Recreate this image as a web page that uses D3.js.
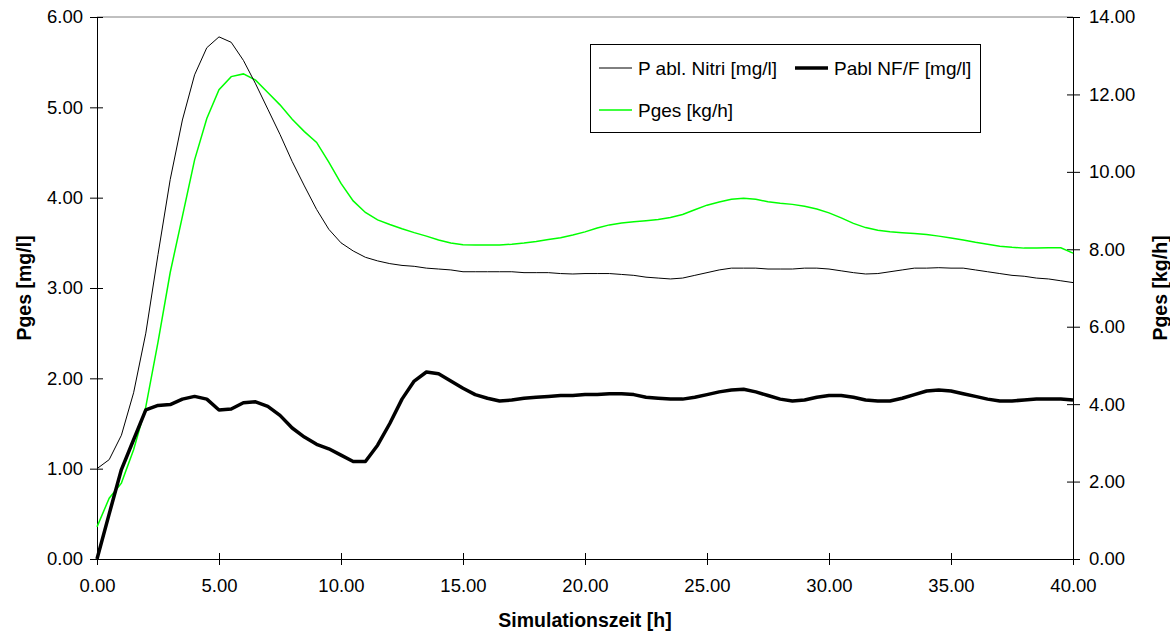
<!DOCTYPE html>
<html>
<head>
<meta charset="utf-8">
<script src="https://cdn.jsdelivr.net/npm/d3@7"></script>
<style>
  body { margin: 0; background: #fff; }
  svg { display: block; font-family: "Liberation Sans", Arial, sans-serif; }
</style>
</head>
<body>
<div id="chart"></div>
<script>
// time grid [h]
var zeit = [0, 0.5, 1, 1.5, 2, 2.5, 3, 3.5, 4, 4.5, 5, 5.5, 6, 6.5, 7, 7.5, 8, 8.5, 9, 9.5,
    10, 10.5, 11, 11.5, 12, 12.5, 13, 13.5, 14, 14.5, 15, 15.5, 16, 16.5, 17, 17.5, 18, 18.5, 19, 19.5,
    20, 20.5, 21, 21.5, 22, 22.5, 23, 23.5, 24, 24.5, 25, 25.5, 26, 26.5, 27, 27.5, 28, 28.5, 29, 29.5,
    30, 30.5, 31, 31.5, 32, 32.5, 33, 33.5, 34, 34.5, 35, 35.5, 36, 36.5, 37, 37.5, 38, 38.5, 39, 39.5, 40];

// P abl. Nitri [mg/l] (left axis)
var pAblNitri = [1.00, 1.10, 1.37, 1.84, 2.50, 3.37, 4.20, 4.86, 5.36, 5.66, 5.78, 5.72, 5.52, 5.26, 4.98, 4.70, 4.40, 4.13, 3.87, 3.65,
    3.50, 3.41, 3.34, 3.30, 3.27, 3.25, 3.24, 3.22, 3.21, 3.20, 3.18, 3.18, 3.18, 3.18, 3.18, 3.17, 3.17, 3.17, 3.16, 3.155,
    3.16, 3.16, 3.16, 3.15, 3.14, 3.12, 3.11, 3.10, 3.11, 3.14, 3.17, 3.20, 3.22, 3.22, 3.22, 3.21, 3.21, 3.21, 3.22, 3.22,
    3.21, 3.19, 3.17, 3.155, 3.16, 3.18, 3.20, 3.22, 3.22, 3.225, 3.22, 3.22, 3.20, 3.18, 3.16, 3.14, 3.13, 3.11, 3.10, 3.08, 3.06];

// Pabl NF/F [mg/l] (left axis)
var pAblNFF = [0.00, 0.50, 0.99, 1.32, 1.65, 1.70, 1.71, 1.77, 1.80, 1.77, 1.65, 1.66, 1.73, 1.74, 1.69, 1.59, 1.45, 1.35, 1.27, 1.22,
    1.15, 1.08, 1.08, 1.26, 1.50, 1.77, 1.97, 2.07, 2.05, 1.97, 1.89, 1.82, 1.78, 1.75, 1.76, 1.78, 1.79, 1.80, 1.81, 1.81,
    1.82, 1.82, 1.83, 1.83, 1.82, 1.79, 1.78, 1.77, 1.77, 1.79, 1.82, 1.85, 1.87, 1.88, 1.85, 1.81, 1.77, 1.75, 1.76, 1.79,
    1.81, 1.81, 1.79, 1.76, 1.75, 1.75, 1.78, 1.82, 1.86, 1.87, 1.86, 1.83, 1.80, 1.77, 1.75, 1.75, 1.76, 1.77, 1.77, 1.77, 1.76];

// Pges [kg/h] (right axis)
var pGes = [0.83, 1.57, 1.96, 2.82, 3.93, 5.60, 7.40, 8.85, 10.31, 11.38, 12.12, 12.46, 12.53, 12.37, 12.05, 11.73, 11.36, 11.04, 10.76, 10.25,
    9.70, 9.25, 8.95, 8.76, 8.64, 8.53, 8.43, 8.34, 8.24, 8.16, 8.12, 8.11, 8.11, 8.11, 8.13, 8.16, 8.20, 8.25, 8.30, 8.37,
    8.45, 8.55, 8.63, 8.68, 8.71, 8.74, 8.77, 8.82, 8.90, 9.02, 9.14, 9.22, 9.29, 9.32, 9.29, 9.23, 9.19, 9.16, 9.11, 9.04,
    8.94, 8.81, 8.67, 8.56, 8.49, 8.45, 8.43, 8.41, 8.38, 8.34, 8.29, 8.24, 8.18, 8.13, 8.08, 8.05, 8.03, 8.03, 8.04, 8.04, 7.90];

var xTicks = [0, 5, 10, 15, 20, 25, 30, 35, 40];
var yLeftTicks = [0, 1, 2, 3, 4, 5, 6];
var yRightTicks = [0, 2, 4, 6, 8, 10, 12, 14];

var width = 1170, height = 635;
var margin = { top: 17, right: 97, bottom: 76, left: 97 };
var innerW = width - margin.left - margin.right,
    innerH = height - margin.top - margin.bottom;

var svg = d3.select("#chart").append("svg")
    .attr("width", width)
    .attr("height", height);

var g = svg.append("g")
    .attr("transform", "translate(" + margin.left + "," + margin.top + ")");

var x = d3.scaleLinear().domain([0, 40]).range([0, innerW]);
var yL = d3.scaleLinear().domain([0, 6]).range([innerH, 0]);
var yR = d3.scaleLinear().domain([0, 14]).range([innerH, 0]);

// plot area top border
g.append("line")
    .attr("x1", 0).attr("x2", innerW)
    .attr("y1", 0).attr("y2", 0)
    .attr("stroke", "#808080").attr("stroke-width", 1);

// axes
function styleAxis(sel) {
    sel.select(".domain").attr("stroke", "#000");
    sel.selectAll(".tick line").attr("stroke", "#000");
    sel.selectAll(".tick text")
        .attr("font-size", "18.5px")
        .attr("fill", "#000");
}

var xAxis = g.append("g")
    .attr("transform", "translate(0," + innerH + ")")
    .call(d3.axisBottom(x).tickValues(xTicks).tickSize(6).tickSizeOuter(0).tickPadding(14)
        .tickFormat(d3.format(".2f")));
styleAxis(xAxis);
xAxis.selectAll(".tick line").attr("y1", -6);

var yAxisL = g.append("g")
    .call(d3.axisLeft(yL).tickValues(yLeftTicks).tickSize(7).tickSizeOuter(0).tickPadding(7)
        .tickFormat(d3.format(".2f")));
styleAxis(yAxisL);
yAxisL.selectAll(".tick line").attr("x1", 6);

var yAxisR = g.append("g")
    .attr("transform", "translate(" + innerW + ",0)")
    .call(d3.axisRight(yR).tickValues(yRightTicks).tickSize(7).tickSizeOuter(0).tickPadding(9)
        .tickFormat(d3.format(".2f")));
styleAxis(yAxisR);
yAxisR.selectAll(".tick line").attr("x1", -6);

// axis titles
svg.append("text")
    .attr("x", margin.left + innerW / 2)
    .attr("y", 627)
    .attr("text-anchor", "middle")
    .attr("font-size", "19.5px")
    .attr("font-weight", "bold")
    .text("Simulationszeit [h]");

svg.append("text")
    .attr("transform", "translate(31," + (margin.top + innerH / 2) + ") rotate(-90)")
    .attr("text-anchor", "middle")
    .attr("font-size", "19.5px")
    .attr("font-weight", "bold")
    .text("Pges [mg/l]");

svg.append("text")
    .attr("transform", "translate(1167," + (margin.top + innerH / 2) + ") rotate(-90)")
    .attr("text-anchor", "middle")
    .attr("font-size", "19.5px")
    .attr("font-weight", "bold")
    .text("Pges [kg/h]");

// lines
function lineFor(values, yScale) {
    return d3.line()
        .x(function (d, i) { return x(zeit[i]); })
        .y(function (d) { return yScale(d); })(values);
}

g.append("path")
    .attr("d", lineFor(pGes, yR))
    .attr("fill", "none")
    .attr("stroke", "#00ff00")
    .attr("stroke-width", 1.5);

g.append("path")
    .attr("d", lineFor(pAblNitri, yL))
    .attr("fill", "none")
    .attr("stroke", "#000")
    .attr("stroke-width", 1);

g.append("path")
    .attr("d", lineFor(pAblNFF, yL))
    .attr("fill", "none")
    .attr("stroke", "#000")
    .attr("stroke-width", 3.5)
    .attr("stroke-linejoin", "round");

// legend
var legend = svg.append("g").attr("transform", "translate(590,44)");
legend.append("rect")
    .attr("x", 0.5).attr("y", 0.5)
    .attr("width", 390).attr("height", 88)
    .attr("fill", "#fff")
    .attr("stroke", "#000").attr("stroke-width", 1);

var legendItems = [
    { label: "P abl. Nitri [mg/l]", color: "#000", w: 1, x: 9, y: 24 },
    { label: "Pabl NF/F [mg/l]", color: "#000", w: 3.5, x: 205, y: 24 },
    { label: "Pges [kg/h]", color: "#00ff00", w: 1.5, x: 9, y: 66 }
];
legendItems.forEach(function (d) {
    legend.append("line")
        .attr("x1", d.x).attr("x2", d.x + 33)
        .attr("y1", d.y).attr("y2", d.y)
        .attr("stroke", d.color).attr("stroke-width", d.w);
    legend.append("text")
        .attr("x", d.x + 39).attr("y", d.y + 7)
        .attr("font-size", "19px")
        .text(d.label);
});
</script>
</body>
</html>
